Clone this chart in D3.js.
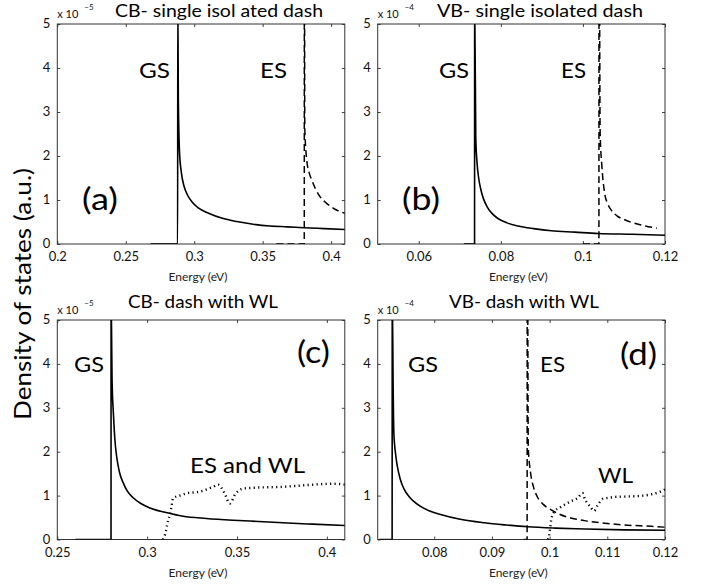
<!DOCTYPE html>
<html><head><meta charset="utf-8">
<script src="https://cdn.jsdelivr.net/npm/d3@7"></script>
<style>body{margin:0;background:#fff}svg{display:block}</style>
</head><body><svg id="c" width="706" height="587"></svg>
<script>
// ---------- data ----------
const yTickValues = [0, 1, 2, 3, 4, 5];
const xTicksA = [0.2, 0.25, 0.3, 0.35, 0.4];
const xTicksB = [0.06, 0.08, 0.1, 0.12];
const xTicksC = [0.25, 0.3, 0.35, 0.4];
const xTicksD = [0.08, 0.09, 0.1, 0.11, 0.12];

// (a) CB single isolated dash
const aGS_E = [0.268, 0.2879, 0.28802, 0.2884, 0.2893, 0.2905, 0.2927, 0.2950, 0.2983, 0.3030, 0.3105, 0.3200, 0.3310, 0.3430, 0.3555, 0.3680, 0.3800, 0.3950, 0.4100];
const aGS_D = [0, 0, 5.6, 3.3, 2.06, 1.65, 1.30, 1.12, 0.96, 0.82, 0.70, 0.59, 0.51, 0.45, 0.41, 0.39, 0.37, 0.35, 0.33];
const aES_E = [0.360, 0.3804, 0.38045, 0.3808, 0.3822, 0.3838, 0.3859, 0.3888, 0.3920, 0.3965, 0.4017, 0.4100];
const aES_D = [0, 0, 9, 2.6, 1.91, 1.64, 1.45, 1.24, 1.07, 0.93, 0.81, 0.70];

// (b) VB single isolated dash
const bGS_E = [0.071, 0.0736, 0.07362, 0.0739, 0.0742, 0.0746, 0.0751, 0.0758, 0.0767, 0.0779, 0.0793, 0.0815, 0.0842, 0.0880, 0.0923, 0.0980, 0.1037, 0.1120, 0.1200];
const bGS_D = [0, 0, 5.6, 2.4, 1.85, 1.50, 1.25, 1.02, 0.84, 0.69, 0.58, 0.48, 0.41, 0.35, 0.30, 0.27, 0.24, 0.22, 0.20];
const bES_E = [0.100, 0.1039, 0.10392, 0.1042, 0.1046, 0.1053, 0.1060, 0.1069, 0.1083, 0.1102, 0.1142, 0.1180];
const bES_D = [0, 0, 9, 2.5, 1.8, 1.15, 0.92, 0.77, 0.64, 0.55, 0.43, 0.36];

// (c) CB dash with WL
const cGS_E = [0.260, 0.2799, 0.27992, 0.2805, 0.2813, 0.2820, 0.2830, 0.2845, 0.2867, 0.2890, 0.2922, 0.2965, 0.3015, 0.3100, 0.3200, 0.3330, 0.3478, 0.3620, 0.3756, 0.3920, 0.4100];
const cGS_D = [0, 0, 5.6, 3.6, 2.81, 2.3, 1.90, 1.55, 1.29, 1.10, 0.95, 0.82, 0.72, 0.62, 0.53, 0.48, 0.44, 0.41, 0.38, 0.35, 0.32];
const cWL_E = [0.3088, 0.3100, 0.3117, 0.3126, 0.3135, 0.3144, 0.3182, 0.3218, 0.3293, 0.3367, 0.3395, 0.3430, 0.3460, 0.3490, 0.3535, 0.3600, 0.3756, 0.3860, 0.3960, 0.4030, 0.4100];
const cWL_D = [0, 0.12, 0.44, 0.55, 0.74, 0.94, 1.00, 1.05, 1.09, 1.20, 1.25, 1.06, 0.82, 1.03, 1.16, 1.18, 1.20, 1.23, 1.26, 1.27, 1.25];

// (d) VB dash with WL
const dGS_E = [0.0705, 0.0727, 0.07272, 0.0729, 0.0730, 0.0733, 0.0736, 0.0741, 0.0748, 0.0758, 0.0771, 0.0790, 0.0811, 0.0845, 0.0887, 0.0925, 0.0962, 0.1010, 0.1061, 0.1130, 0.1200];
const dGS_D = [0, 0, 5.6, 3.2, 2.43, 1.95, 1.67, 1.38, 1.14, 0.95, 0.80, 0.66, 0.57, 0.46, 0.38, 0.33, 0.29, 0.26, 0.24, 0.22, 0.21];
const dES_E = [0.0955, 0.0961, 0.09612, 0.0963, 0.0967, 0.0972, 0.0978, 0.0989, 0.1002, 0.1018, 0.1037, 0.1060, 0.1090, 0.1130, 0.1177, 0.1200];
const dES_D = [0, 0, 9, 2.1, 1.52, 1.20, 0.99, 0.80, 0.68, 0.57, 0.49, 0.43, 0.38, 0.33, 0.30, 0.28];
const dWL_E = [0.0997, 0.0999, 0.1003, 0.1009, 0.1017, 0.1027, 0.1037, 0.1049, 0.1057, 0.1061, 0.1066, 0.1071, 0.1077, 0.1084, 0.1093, 0.1103, 0.1113, 0.1135, 0.1154, 0.1177, 0.1190, 0.1200];
const dWL_D = [0, 0.08, 0.46, 0.65, 0.72, 0.80, 0.87, 0.95, 1.06, 0.92, 0.82, 0.74, 0.65, 0.80, 0.93, 0.95, 0.97, 0.98, 0.99, 1.03, 1.08, 1.14];

// ---------- drawing ----------
const FONT = "Lato, 'Open Sans', sans-serif";
const svg = d3.select("#c");
const zip = (E, D) => E.map((e, i) => [e, D[i]]);

const STYLES = {
  solid:  {w: 1.6, dash: null},
  dashed: {w: 1.5, dash: "7,4"},
  dotted: {w: 2.4, dash: "1.2,3.3"}
};

const panels = [
  {id: "a", xr: [57.3, 344.8], yr: [244, 24], dom: [0.2, 0.41], ticks: xTicksA, exp: "\u22125",
   title: "CB- single isol ated dash", tx: 115, tlen: 208, ty: 16.5,
   curves: [[aGS_E, aGS_D, "solid"], [aES_E, aES_D, "dashed"]],
   labels: [["GS", 139, 78, 22, 31], ["ES", 260, 78, 22, 27], ["(a)", 82, 210, 30, 36]]},
  {id: "b", xr: [377.7, 665], yr: [244, 24], dom: [0.05, 0.12], ticks: xTicksB, exp: "\u22124",
   title: "VB- single isolated dash", tx: 437, tlen: 206, ty: 16.5,
   curves: [[bGS_E, bGS_D, "solid"], [bES_E, bES_D, "dashed"]],
   labels: [["GS", 439, 78, 22, 30], ["ES", 561, 78, 22, 25], ["(b)", 402, 210, 30, 38]]},
  {id: "c", xr: [57.3, 344.8], yr: [539.5, 320], dom: [0.25, 0.41], ticks: xTicksC, exp: "\u22125",
   title: "CB- dash with WL", tx: 128, tlen: 150, ty: 307.5,
   curves: [[cGS_E, cGS_D, "solid"], [cWL_E, cWL_D, "dotted"]],
   labels: [["GS", 74, 372, 22, 30], ["ES and WL", 190, 473, 22, 115], ["(c)", 297, 363, 30, 33]]},
  {id: "d", xr: [377.7, 665], yr: [539.5, 320], dom: [0.0702, 0.12], ticks: xTicksD, exp: "\u22124",
   title: "VB- dash with WL", tx: 449, tlen: 150, ty: 307.5,
   curves: [[dGS_E, dGS_D, "solid"], [dES_E, dES_D, "dashed"], [dWL_E, dWL_D, "dotted"]],
   labels: [["GS", 408, 372, 22, 30], ["ES", 540, 372, 22, 25], ["WL", 598, 483, 22, 35], ["(d)", 620, 365, 30, 37]]}
];

panels.forEach(p => {
  const x = d3.scaleLinear().domain(p.dom).range(p.xr);
  const y = d3.scaleLinear().domain([0, 5]).range(p.yr);
  const [X0, X1] = p.xr, [Y1, Y0] = p.yr;
  const g = svg.append("g");

  g.append("clipPath").attr("id", "clip" + p.id)
    .append("rect").attr("x", X0).attr("y", Y0).attr("width", X1 - X0).attr("height", Y1 - Y0);

  // axes (ticks inside on all four sides)
  const fmt = d => String(d);
  const bottom = g.append("g").attr("transform", `translate(0,${Y1})`)
    .call(d3.axisBottom(x).tickValues(p.ticks).tickSize(-3).tickSizeOuter(0).tickPadding(8).tickFormat(fmt));
  const top = g.append("g").attr("transform", `translate(0,${Y0})`)
    .call(d3.axisTop(x).tickValues(p.ticks).tickSize(-3).tickSizeOuter(0).tickFormat(""));
  const left = g.append("g").attr("transform", `translate(${X0},0)`)
    .call(d3.axisLeft(y).tickValues(yTickValues).tickSize(-3).tickSizeOuter(0).tickPadding(7).tickFormat(d3.format("d")));
  const right = g.append("g").attr("transform", `translate(${X1},0)`)
    .call(d3.axisRight(y).tickValues(yTickValues).tickSize(-3).tickSizeOuter(0).tickFormat(""));
  [bottom, top, left, right].forEach(a => {
    a.select(".domain").remove();
    a.selectAll("line").attr("stroke", "#444");
    a.selectAll("text").attr("font-family", FONT).attr("font-size", 13).attr("fill", "#111");
  });
  left.selectAll("text").attr("dy", "0.28em");

  // frame
  g.append("rect").attr("x", X0).attr("y", Y0).attr("width", X1 - X0).attr("height", Y1 - Y0)
    .attr("fill", "none").attr("stroke", "#333").attr("stroke-width", 1);

  // curves
  const line = d3.line().x(d => x(d[0])).y(d => y(d[1])).curve(d3.curveMonotoneX);
  const cg = g.append("g").attr("clip-path", `url(#clip${p.id})`);
  p.curves.forEach(([E, D, st]) => {
    const s = STYLES[st];
    cg.append("path").datum(zip(E, D)).attr("d", line)
      .attr("fill", "none").attr("stroke", "#000").attr("stroke-width", s.w)
      .attr("stroke-dasharray", s.dash).attr("stroke-linejoin", "round");
  });

  // exponent label
  g.append("text").attr("x", X0).attr("y", Y0 - 6).attr("font-family", FONT).attr("font-size", 11)
    .attr("fill", "#111").text("x 10");
  g.append("text").attr("x", X0 + 27).attr("y", Y0 - 14).attr("font-family", FONT).attr("font-size", 8)
    .attr("fill", "#111").text(p.exp);

  // title
  g.append("text").attr("x", p.tx).attr("y", p.ty).attr("font-family", FONT).attr("font-size", 17)
    .attr("textLength", p.tlen).attr("lengthAdjust", "spacingAndGlyphs").attr("fill", "#000").text(p.title);

  // x-axis title
  g.append("text").attr("x", (X0 + X1) / 2 - 3).attr("y", Y1 + 37).attr("text-anchor", "middle")
    .attr("font-family", FONT).attr("font-size", 12).attr("fill", "#222").text("Energy (eV)");

  // annotations
  p.labels.forEach(([t, lx, ly, fs, len]) => {
    g.append("text").attr("x", lx).attr("y", ly).attr("font-family", FONT).attr("font-size", fs)
      .attr("textLength", len).attr("lengthAdjust", "spacingAndGlyphs").attr("fill", "#000").text(t);
  });
});

// shared y-axis title
svg.append("text").attr("transform", "translate(31,294) rotate(-90)").attr("text-anchor", "middle")
  .attr("font-family", FONT).attr("font-size", 23).attr("textLength", 252).attr("lengthAdjust", "spacingAndGlyphs")
  .attr("fill", "#000").text("Density of states  (a.u.)");
</script>
</body></html>
